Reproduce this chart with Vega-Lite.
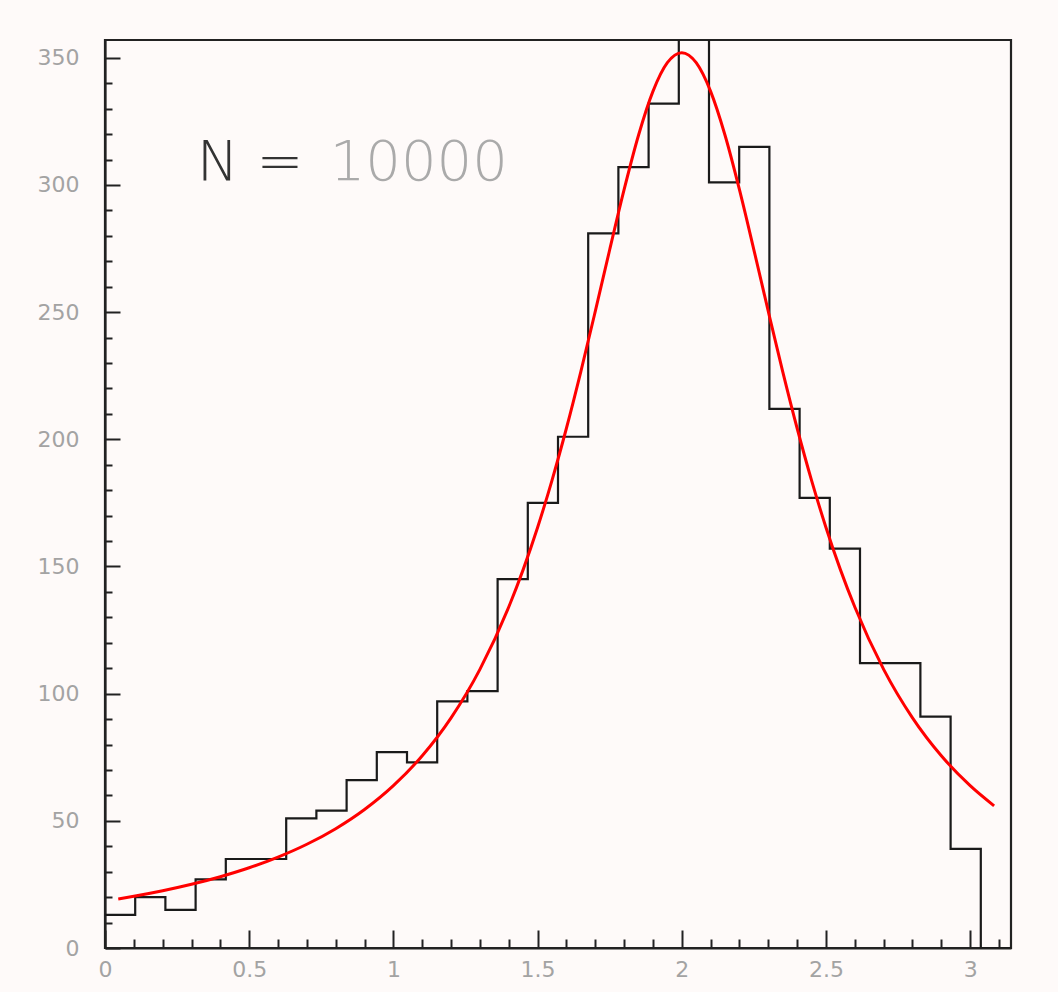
{
  "$schema": "https://vega.github.io/schema/vega-lite/v6.json",
  "width": 906,
  "height": 908,
  "autosize": "none",
  "padding": {"left": 105, "top": 40, "right": 47, "bottom": 44},
  "background": "#fefaf9",
  "config": {
    "view": {"stroke": "#222222", "strokeWidth": 2.2, "fill": "#fefaf9"}
  },
  "datasets": {
    "hist": [
      {"edge": 0, "count": 13},
      {"edge": 0.1047, "count": 20},
      {"edge": 0.2094, "count": 15},
      {"edge": 0.3142, "count": 27},
      {"edge": 0.4189, "count": 35},
      {"edge": 0.5236, "count": 35},
      {"edge": 0.6283, "count": 51},
      {"edge": 0.733, "count": 54},
      {"edge": 0.8378, "count": 66},
      {"edge": 0.9425, "count": 77},
      {"edge": 1.0472, "count": 73},
      {"edge": 1.1519, "count": 97},
      {"edge": 1.2566, "count": 101},
      {"edge": 1.3614, "count": 145},
      {"edge": 1.4661, "count": 175},
      {"edge": 1.5708, "count": 201},
      {"edge": 1.6755, "count": 281},
      {"edge": 1.7802, "count": 307},
      {"edge": 1.885, "count": 332},
      {"edge": 1.9897, "count": 365},
      {"edge": 2.0944, "count": 301},
      {"edge": 2.1991, "count": 315},
      {"edge": 2.3038, "count": 212},
      {"edge": 2.4086, "count": 177},
      {"edge": 2.5133, "count": 157},
      {"edge": 2.618, "count": 112},
      {"edge": 2.7227, "count": 112},
      {"edge": 2.8274, "count": 91},
      {"edge": 2.9322, "count": 39},
      {"edge": 3.0369, "count": 0},
      {"edge": 3.1416, "count": 0}
    ],
    "fit": [
      {"x": 0.046, "f": 19.3},
      {"x": 0.1, "f": 20.35},
      {"x": 0.2, "f": 22.52},
      {"x": 0.3, "f": 25.05},
      {"x": 0.4, "f": 28.03},
      {"x": 0.5, "f": 31.54},
      {"x": 0.6, "f": 35.74},
      {"x": 0.7, "f": 40.78},
      {"x": 0.8, "f": 46.92},
      {"x": 0.9, "f": 54.46},
      {"x": 1.0, "f": 63.83},
      {"x": 1.1, "f": 75.57},
      {"x": 1.2, "f": 90.49},
      {"x": 1.3, "f": 109.56},
      {"x": 1.4, "f": 134.06},
      {"x": 1.45, "f": 148.77},
      {"x": 1.5, "f": 165.35},
      {"x": 1.55, "f": 183.87},
      {"x": 1.6, "f": 204.35},
      {"x": 1.65, "f": 226.64},
      {"x": 1.7, "f": 250.28},
      {"x": 1.75, "f": 274.52},
      {"x": 1.8, "f": 298.15},
      {"x": 1.85, "f": 319.54},
      {"x": 1.9, "f": 336.79},
      {"x": 1.95, "f": 348.07},
      {"x": 2.0, "f": 352},
      {"x": 2.05, "f": 348.07},
      {"x": 2.1, "f": 336.79},
      {"x": 2.15, "f": 319.54},
      {"x": 2.2, "f": 298.15},
      {"x": 2.25, "f": 274.52},
      {"x": 2.3, "f": 250.28},
      {"x": 2.35, "f": 226.64},
      {"x": 2.4, "f": 204.35},
      {"x": 2.45, "f": 183.87},
      {"x": 2.5, "f": 165.35},
      {"x": 2.55, "f": 148.77},
      {"x": 2.6, "f": 134.06},
      {"x": 2.7, "f": 109.56},
      {"x": 2.8, "f": 90.49},
      {"x": 2.9, "f": 75.57},
      {"x": 3.0, "f": 63.83},
      {"x": 3.083, "f": 55.9}
    ],
    "note": [
      {"part": "N =", "px": 0.318, "py": 301.9, "kind": "label"},
      {"part": "10000", "px": 0.779, "py": 301.9, "kind": "value"}
    ]
  },
  "layer": [
    {
      "data": {"name": "hist"},
      "mark": {"type": "line", "interpolate": "step-after", "color": "#1a1a1a", "strokeWidth": 2.2, "clip": true},
      "encoding": {
        "x": {
          "field": "edge", "type": "quantitative",
          "scale": {"domain": [0, 3.1416], "nice": false, "zero": false},
          "axis": {
            "orient": "bottom", "values": [0, 0.5, 1, 1.5, 2, 2.5, 3], "format": "~g",
            "tickSize": -18, "tickWidth": 2, "tickColor": "#222222",
            "domain": true, "domainColor": "#222222", "domainWidth": 2.2,
            "labelFont": "DejaVu Sans", "labelFontSize": 22, "labelColor": "#a3a3a3",
            "labelPadding": 29, "grid": false, "title": null, "labelFlush": false, "labelOverlap": false
          }
        },
        "y": {
          "field": "count", "type": "quantitative",
          "scale": {"domain": [0, 357], "nice": false, "zero": true},
          "axis": {
            "orient": "left", "values": [0, 50, 100, 150, 200, 250, 300, 350], "format": "d",
            "tickSize": -15, "tickWidth": 2, "tickColor": "#222222",
            "domain": true, "domainColor": "#222222", "domainWidth": 2.2,
            "labelFont": "DejaVu Sans", "labelFontSize": 22, "labelColor": "#a3a3a3",
            "labelPadding": 41, "grid": false, "title": null, "labelFlush": false, "labelOverlap": false
          }
        }
      }
    },
    {
      "data": {"name": "fit"},
      "mark": {"type": "line", "interpolate": "monotone", "color": "#ff0000", "strokeWidth": 3, "clip": true},
      "encoding": {
        "x": {
          "field": "x", "type": "quantitative",
          "axis": {
            "orient": "bottom",
            "values": [0.1, 0.2, 0.3, 0.4, 0.6, 0.7, 0.8, 0.9, 1.1, 1.2, 1.3, 1.4, 1.6, 1.7, 1.8, 1.9, 2.1, 2.2, 2.3, 2.4, 2.6, 2.7, 2.8, 2.9, 3.1],
            "tickSize": -9, "tickWidth": 2, "tickColor": "#222222",
            "domain": false, "labels": false, "grid": false, "title": null
          }
        },
        "y": {
          "field": "f", "type": "quantitative",
          "axis": {
            "orient": "left",
            "values": [10, 20, 30, 40, 60, 70, 80, 90, 110, 120, 130, 140, 160, 170, 180, 190, 210, 220, 230, 240, 260, 270, 280, 290, 310, 320, 330, 340],
            "tickSize": -7, "tickWidth": 2, "tickColor": "#222222",
            "domain": false, "labels": false, "grid": false, "title": null
          }
        }
      }
    },
    {
      "data": {"name": "note"},
      "mark": {"type": "text", "align": "left", "baseline": "alphabetic", "font": "DejaVu Sans", "fontSize": 56, "fontWeight": 200},
      "encoding": {
        "x": {"field": "px", "type": "quantitative", "axis": null},
        "y": {"field": "py", "type": "quantitative", "axis": null},
        "text": {"field": "part"},
        "color": {"field": "kind", "type": "nominal", "scale": {"domain": ["label", "value"], "range": ["#333333", "#aaaaaa"]}, "legend": null}
      }
    }
  ],
  "resolve": {"axis": {"x": "independent", "y": "independent"}}
}
